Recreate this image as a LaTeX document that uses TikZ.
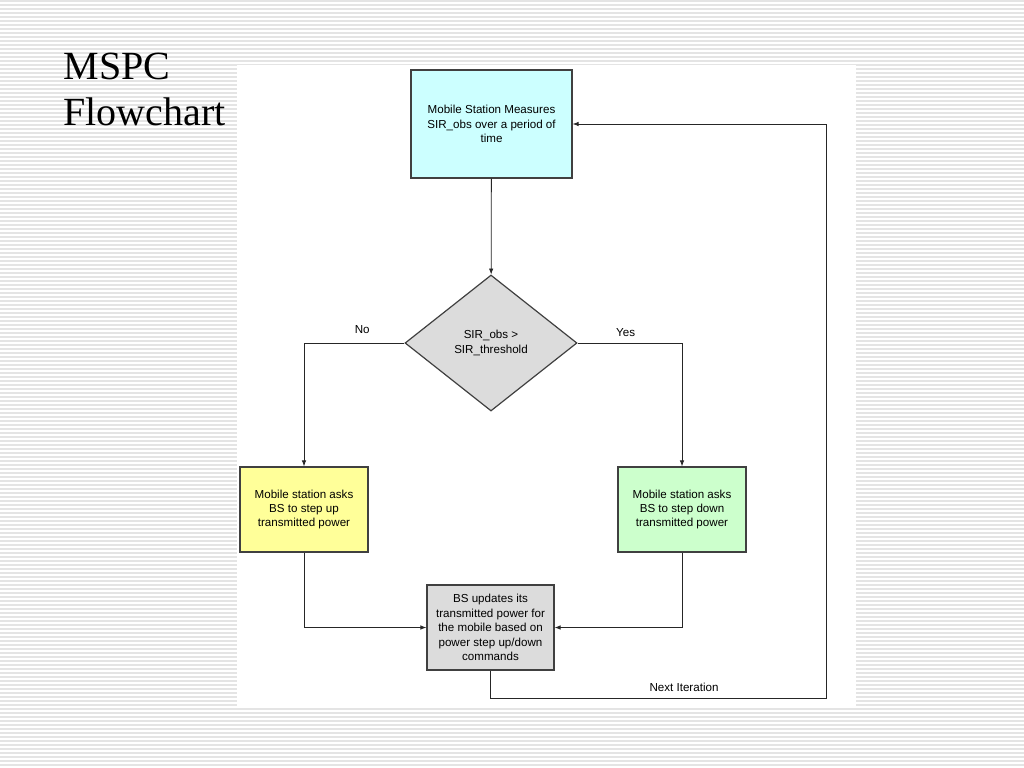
\documentclass[tikz,border=0pt]{standalone}
\usepackage{fontspec}
\setmainfont{Liberation Serif}
\newfontfamily\chartfont{Liberation Sans}
\usetikzlibrary{shapes.geometric, arrows.meta}

\definecolor{measurecyan}{HTML}{CCFFFF}
\definecolor{stepupyellow}{HTML}{FFFF99}
\definecolor{stepdowngreen}{HTML}{CCFFCC}
\definecolor{updategray}{HTML}{DCDCDC}
\definecolor{edgegray}{HTML}{404040}
\definecolor{stripegray}{HTML}{E4E4E4}

\begin{document}
\begin{tikzpicture}[x=1bp, y=-1bp,
    stripe/.style={draw=stripegray, line width=1.2bp},
    flowbox/.style={draw=edgegray, line width=1.2bp, align=center, inner sep=0pt,
        font=\chartfont\fontsize{11.6bp}{14.4bp}\selectfont},
    decision/.style={flowbox, diamond, aspect=1.26, minimum width=172bp, minimum height=136bp},
    link/.style={draw=black!85, line width=0.8bp, -{Latex[length=6bp,width=4.5bp]}},
    linklabel/.style={font=\chartfont\fontsize{11.6bp}{13bp}\selectfont}]
        \useasboundingbox (0,0) rectangle (1024,768);

        % striped slide background
        \fill[white] (0,0) rectangle (1024,768);
        \foreach \y in {1,5,...,767} \draw[stripe] (0,\y) -- (1024,\y);
        \fill[white] (237,65) rectangle (856,708);

        \node[anchor=base west, font=\fontsize{40bp}{45bp}\selectfont, align=left] (title) at (60,125) {MSPC\\Flowchart};

        \node[flowbox, fill=measurecyan, minimum width=161bp, minimum height=108bp] (measure) at (491.5,124) {Mobile Station Measures\\SIR\_obs over a period of\\time};
        \node[decision, fill=updategray] (check) at (491,343) {SIR\_obs >\\SIR\_threshold};
        \node[flowbox, fill=stepupyellow, minimum width=128bp, minimum height=85bp] (stepup) at (304,509.5) {Mobile station asks\\BS to step up\\transmitted power};
        \node[flowbox, fill=stepdowngreen, minimum width=128bp, minimum height=85bp] (stepdown) at (682,509.5) {Mobile station asks\\BS to step down\\transmitted power};
        \node[flowbox, fill=updategray, minimum width=127bp, minimum height=85bp] (update) at (490.5,627.5) {BS updates its\\transmitted power for\\the mobile based on\\power step up/down\\commands};

        \coordinate (loopcorner) at (826,698);

        \draw[link] (measure) -- (check);
        \draw[link] (check.west) -| node[linklabel, pos=0.21, above=6bp] {No} (stepup.north);
        \draw[link] (check.east) -| node[linklabel, pos=0.23, above=3bp] {Yes} (stepdown.north);
        \draw[link] (stepup.south) |- (update.west);
        \draw[link] (stepdown.south) |- (update.east);
        \draw[link] (update.south) |- (loopcorner) |- (measure.east);
        \node[linklabel, anchor=base] (nextlabel) at (684,691) {Next Iteration};

    \end{tikzpicture}
\end{document}
